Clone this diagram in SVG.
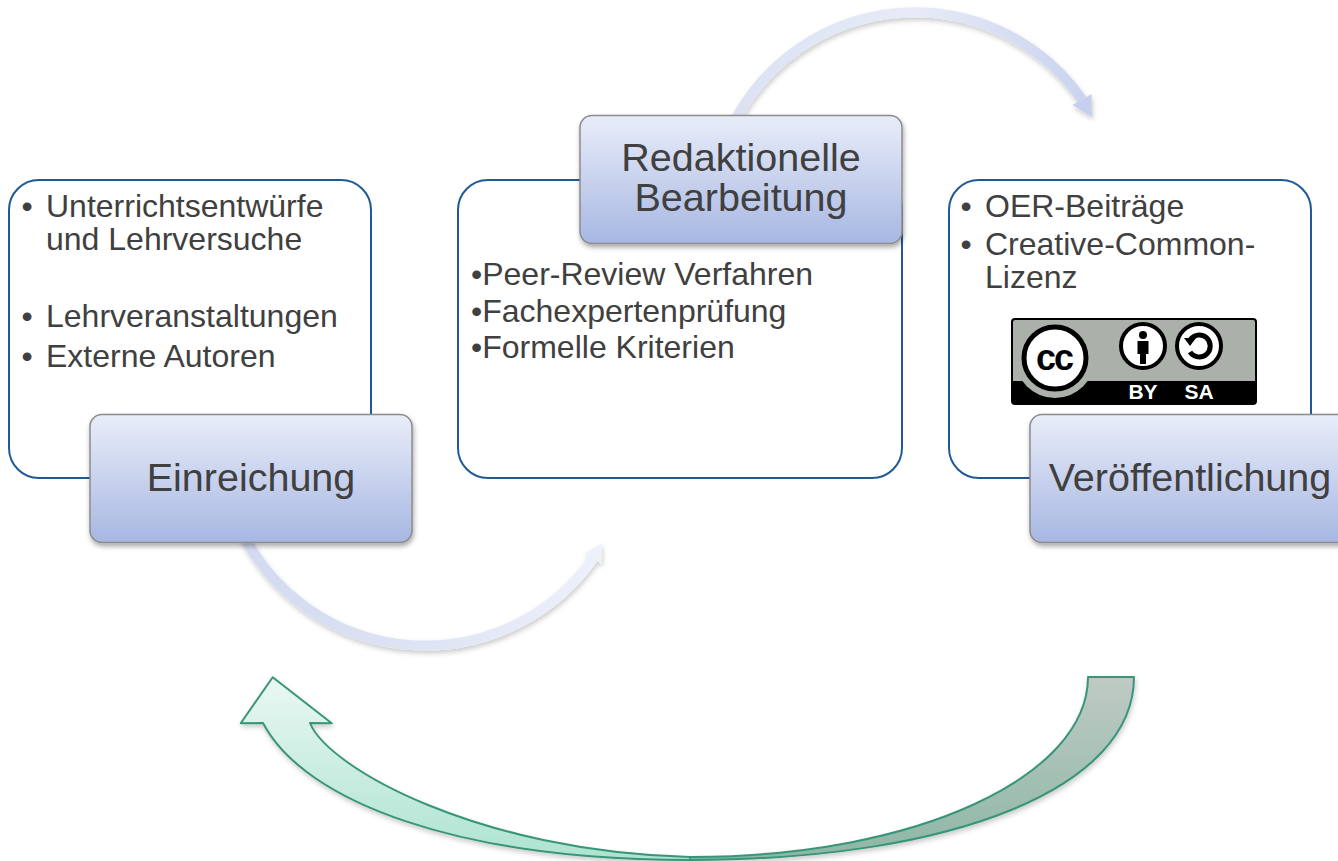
<svg xmlns="http://www.w3.org/2000/svg" width="1338" height="861" viewBox="0 0 1338 861">
<defs>
  <linearGradient id="lblGrad" x1="0" y1="0" x2="0" y2="1">
    <stop offset="0" stop-color="#e9edf9"/>
    <stop offset="1" stop-color="#a7b7e2"/>
  </linearGradient>
  <linearGradient id="topArc" gradientUnits="userSpaceOnUse" x1="735" y1="0" x2="1095" y2="0">
    <stop offset="0" stop-color="#dce2f3"/>
    <stop offset="0.5" stop-color="#e7ebf7"/>
    <stop offset="1" stop-color="#c9d2ee"/>
  </linearGradient>
  <linearGradient id="botArc" gradientUnits="userSpaceOnUse" x1="244" y1="0" x2="605" y2="0">
    <stop offset="0" stop-color="#d3daf0"/>
    <stop offset="0.5" stop-color="#dfe4f4"/>
    <stop offset="1" stop-color="#eef1fa"/>
  </linearGradient>
  <linearGradient id="greenL" gradientUnits="userSpaceOnUse" x1="0" y1="677" x2="0" y2="860">
    <stop offset="0" stop-color="#eaf8f3"/>
    <stop offset="1" stop-color="#ade3d0"/>
  </linearGradient>
  <linearGradient id="greenR" gradientUnits="userSpaceOnUse" x1="0" y1="677" x2="0" y2="860">
    <stop offset="0" stop-color="#bfcac4"/>
    <stop offset="1" stop-color="#8cb7a5"/>
  </linearGradient>
  <filter id="shadow" x="-10%" y="-10%" width="120%" height="130%">
    <feDropShadow dx="1" dy="3" stdDeviation="2.5" flood-color="#000" flood-opacity="0.35"/>
  </filter>
  <filter id="softShadow" x="-10%" y="-10%" width="120%" height="130%">
    <feDropShadow dx="1" dy="3" stdDeviation="2.5" flood-color="#000" flood-opacity="0.2"/>
  </filter>
  <clipPath id="badgeClip">
    <rect x="1012" y="319" width="244" height="85" rx="3"/>
  </clipPath>
  <style>
    .outline { fill: #ffffff; stroke: #1f5a96; stroke-width: 2; }
    .label { fill: url(#lblGrad); stroke: #8c8c8c; stroke-width: 1.5; filter: url(#shadow); }
    .txt { font-family: "Liberation Sans", Arial, sans-serif; fill: #404040; font-size: 32px; }
    .big { font-family: "Liberation Sans", Arial, sans-serif; fill: #404040; font-size: 39.5px; text-anchor: middle; }
    .green { stroke: #38957a; stroke-width: 2; stroke-linejoin: round; }
    .badgeTxt { font-family: "Liberation Sans", Arial, sans-serif; font-weight: bold; fill: #ffffff; font-size: 21px; text-anchor: middle; }
  </style>
</defs>
<rect width="1338" height="861" fill="#ffffff"/>

<g id="connectors">
  <g filter="url(#softShadow)">
    <path d="M 734.9 120.2 A 204 204 0 0 1 1082 99.5" fill="none" stroke="url(#topArc)" stroke-width="10"/>
    <polygon points="1092,117 1091.6,94.1 1072.4,104.9" fill="#c6cfed"/>
  </g>
  <g filter="url(#softShadow)">
    <path d="M 244 536.2 A 205 205 0 0 0 592.9 558.6" fill="none" stroke="url(#botArc)" stroke-width="10"/>
    <polygon points="602,543 601.5,563.6 584.3,553.6" fill="#eef1fa"/>
  </g>
  <g filter="url(#softShadow)">
    <path class="green" fill="url(#greenR)" d="M 1088 677 L 1134 677 C 1134 787 956 860 690 860 L 690 857 C 920 857 1088 775 1088 677 Z"/>
    <path class="green" fill="url(#greenL)" d="M 690 860 C 460 860 305 802.6 263 723 L 240.7 723.3 L 272.7 677.3 L 331.7 723.3 L 310 723 C 328 768 480 852 690 857 Z"/>
  </g>
</g>

<g id="node-einreichung">
  <rect class="outline" x="9" y="180" width="362" height="298" rx="30"/>
  <text class="txt" x="21.5" y="217">•</text>
  <text class="txt"><tspan x="46" y="217">Unterrichtsentwürfe</tspan><tspan x="46" y="250">und Lehrversuche</tspan></text>
  <text class="txt" x="21.5" y="327">•</text>
  <text class="txt" x="46" y="327">Lehrveranstaltungen</text>
  <text class="txt" x="21.5" y="367">•</text>
  <text class="txt" x="46" y="367">Externe Autoren</text>
  <rect class="label" x="90" y="414.5" width="322" height="128" rx="12"/>
  <text class="big" x="251" y="491">Einreichung</text>
</g>

<g id="node-redaktion">
  <rect class="outline" x="458" y="180" width="444" height="298" rx="30"/>
  <text class="txt"><tspan x="471" y="285">•Peer-Review Verfahren</tspan><tspan x="471" y="322">•Fachexpertenprüfung</tspan><tspan x="471" y="358">•Formelle Kriterien</tspan></text>
  <rect class="label" x="580" y="115.5" width="322" height="128" rx="12"/>
  <text class="big"><tspan x="741" y="171">Redaktionelle</tspan><tspan x="741" y="211">Bearbeitung</tspan></text>
</g>

<g id="node-veroeffentlichung">
  <rect class="outline" x="949" y="180" width="362" height="298" rx="30"/>
  <text class="txt" x="960.5" y="217">•</text>
  <text class="txt" x="985" y="217">OER-Beiträge</text>
  <text class="txt" x="960.5" y="255">•</text>
  <text class="txt"><tspan x="985" y="255">Creative-Common-</tspan><tspan x="985" y="288">Lizenz</tspan></text>
  <g id="cc-badge">
    <rect x="1012" y="319" width="244" height="85" rx="3" fill="#abb1aa"/>
    <g clip-path="url(#badgeClip)">
      <rect x="1012" y="381" width="244" height="23" fill="#000000"/>
      <circle cx="1055" cy="358" r="40" fill="#abb1aa"/>
    </g>
    <rect x="1012" y="319" width="244" height="85" rx="3" fill="none" stroke="#000000" stroke-width="2"/>
    <circle cx="1055" cy="358" r="31" fill="#ffffff" stroke="#000000" stroke-width="5"/>
    <text x="1054" y="370" font-family="Liberation Sans, Arial, sans-serif" font-weight="bold" font-size="36" letter-spacing="-2" text-anchor="middle" fill="#000000">cc</text>
    <circle cx="1143" cy="346" r="22" fill="#ffffff" stroke="#000000" stroke-width="4"/>
    <circle cx="1143" cy="335" r="4" fill="#000000"/>
    <path d="M 1137.5 341 L 1148.5 341 L 1148.5 354 L 1146 354 L 1146 364 L 1140 364 L 1140 354 L 1137.5 354 Z" fill="#000000"/>
    <circle cx="1199" cy="346" r="22" fill="#ffffff" stroke="#000000" stroke-width="4"/>
    <path d="M 1190 340 A 11 11 0 1 1 1190 352" fill="none" stroke="#000000" stroke-width="5"/>
    <polygon points="1184,338 1196,338 1190,346" fill="#000000"/>
    <text class="badgeTxt" x="1143" y="399">BY</text>
    <text class="badgeTxt" x="1199" y="399">SA</text>
  </g>
  <rect class="label" x="1030" y="414.5" width="322" height="128" rx="12"/>
  <text class="big" x="1190" y="491">Veröffentlichung</text>
</g>
</svg>
